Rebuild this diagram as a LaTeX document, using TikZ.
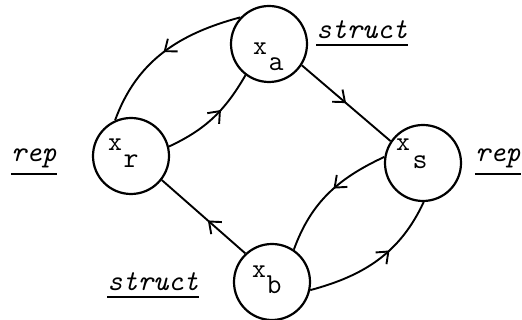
\documentclass[tikz,border=0pt]{standalone}
\usetikzlibrary{arrows.meta,decorations.markings}
\begin{document}
\begin{tikzpicture}[x=1pt,y=1pt,
  state/.style={circle,draw,line width=2.2pt,minimum size=76pt,inner sep=0pt},
  xmark/.style={font=\ttfamily\fontsize{27}{28}\selectfont,inner sep=0pt},
  subs/.style={font=\ttfamily\fontsize{29}{30}\selectfont,inner sep=0pt},
  tag/.style={font=\ttfamily\itshape\fontsize{29}{30}\selectfont,inner sep=0pt},
  uline/.style={line width=2.2pt},
  conn/.style={line width=1.9pt},
  midarrow/.style={postaction={decorate},decoration={markings,
     mark=at position #1 with {\arrow{Straight Barb[length=10pt,width=16pt,line width=1.9pt]}}}}
]
\useasboundingbox (0,0) rectangle (522,320);
% states
\node[state] (a) at (269,276) {};
\node[state] (r) at (131,164) {};
\node[state] (s) at (423,157) {};
\node[state] (b) at (272,38) {};
% inner texts
\node[xmark] (xa) at (260,271) {x};
\node[subs]  (sa) at (276,256) {a};
\node[xmark] (xr) at (115,175) {x};
\node[subs]  (sr) at (131,159) {r};
\node[xmark] (xs) at (403,175) {x};
\node[subs]  (ss) at (420,158) {s};
\node[xmark] (xb) at (259,48) {x};
\node[subs]  (sb) at (274,35) {b};
% tags
\node[tag] (t1) at (362,290) {struct};
\node[tag] (t2) at (34,162) {rep};
\node[tag] (t3) at (498,162) {rep};
\node[tag] (t4) at (153,38) {struct};
\draw[uline] ([yshift=-6pt]t1.south west) -- ([yshift=-6pt]t1.south east);
\draw[uline] ([yshift=-6pt]t2.south west) -- ([yshift=-6pt]t2.south east);
\draw[uline] ([yshift=-6pt]t3.south west) -- ([yshift=-6pt]t3.south east);
\draw[uline] ([yshift=-6pt]t4.south west) -- ([yshift=-6pt]t4.south east);
% connectors
\draw[conn,midarrow=0.5] (a.137) to[out=195,in=70] (r.114);
\draw[conn,midarrow=0.6] (r.14) to[out=25,in=240] (a.233);
\draw[conn,midarrow=0.5] (a.-33) -- (s.146);
\draw[conn,midarrow=0.45] (s.171) to[out=205,in=70] (b.56);
\draw[conn,midarrow=0.6] (b.-12) to[out=15,in=245] (s.-89);
\draw[conn,midarrow=0.45] (b.133) -- (r.-38);
\end{tikzpicture}
\end{document}
